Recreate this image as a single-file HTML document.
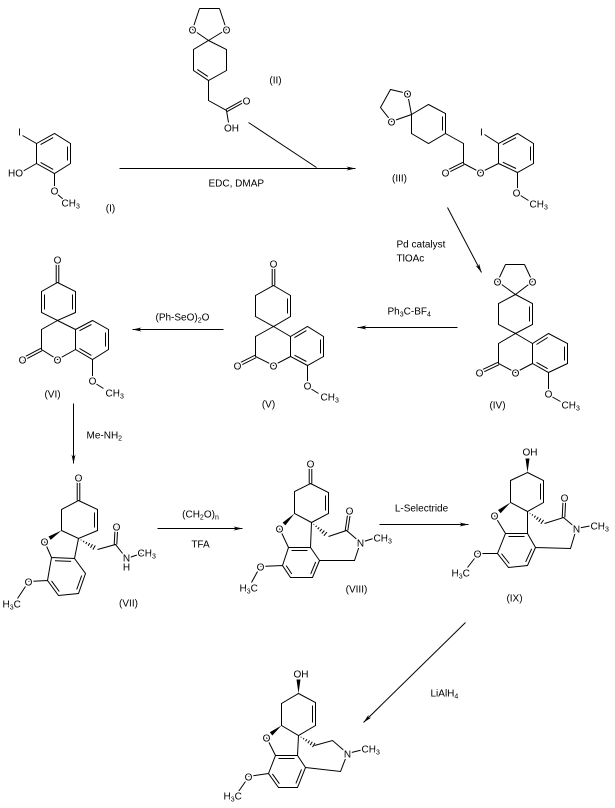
<!DOCTYPE html>
<html><head><meta charset="utf-8"><style>
html,body{margin:0;padding:0;background:#fff;}
svg{display:block;}
.b{stroke:#000;stroke-width:1;fill:none;}
.a{font-family:"Liberation Sans",Arial,sans-serif;font-size:10px;text-anchor:middle;fill:#000;stroke:#fff;stroke-width:3px;paint-order:stroke;stroke-linejoin:round;}
.l{font-family:"Liberation Sans",Arial,sans-serif;font-size:10px;fill:#000;stroke:#fff;stroke-width:3px;paint-order:stroke;stroke-linejoin:round;}
.r{font-family:"Liberation Sans",Arial,sans-serif;font-size:10px;fill:#000;}
.c{text-anchor:middle;}
</style></head><body>
<svg width="615" height="808" viewBox="0 0 615 808" xmlns="http://www.w3.org/2000/svg">
<defs>
<marker id="ah" markerWidth="10" markerHeight="6" refX="9" refY="3" orient="auto" markerUnits="userSpaceOnUse"><path d="M0,1 L9,3 L0,5 L2.5,3 Z" fill="#000"/></marker>
</defs>
<g transform="translate(0.5,0.5)">

<!-- ===== Compound I ===== -->
<path class="b" d="M36,143 L54,133 L70,143 L70,163 L54,173 L36,163 Z M40.1,144.1 L52.7,137.1 M67,146 L67,160 M52.7,168.9 L40.1,161.9 M36,143 L22,135 M36,163 L22,171 M54,173 L54,188 M56,193 L63,199"/>
<text class="a" x="19" y="135">I</text>
<text class="a" x="15" y="176">HO</text>
<text class="a" x="54" y="194">O</text>
<text class="l" x="61" y="206">CH<tspan font-size="7" dy="2">3</tspan></text>
<text class="r c" x="110" y="211">(I)</text>

<!-- ===== Compound II ===== -->
<path class="b" d="M199,8 L219,8 M199,8 L192,29 M219,8 L226,29 M192,29 L208,40 M226,29 L208,40 M208,40 L226,49 L226,70 L208,80 L193,70 L193,49 Z M207.3,75.9 L196.8,68.9 M208,80 L208,100 L226,110 L228,122 M226.6,111.1 L244.6,101.1 M225.4,108.9 L243.4,98.9"/>
<text class="a" x="192" y="33">O</text>
<text class="a" x="226" y="33">O</text>
<text class="a" x="246" y="104">O</text>
<text class="a" x="231" y="131">OH</text>
<text class="r c" x="275" y="83">(II)</text>

<!-- Arrow 1 -->
<path class="b" d="M119,168 L355,168" marker-end="url(#ah)"/>
<path class="b" d="M248,122 L316,167"/>
<text class="r" x="208" y="186">EDC, DMAP</text>

<!-- ===== Compound III ===== -->
<path class="b" d="M380,107 L390,89 L407,93 L411,114 L391,121 Z M411,114 L428,104 L445,113 L445,133 L428,143 L411,133 Z M442,116 L442,130 M445,133 L463,143 L463,163 M463.6,164.2 L445.6,173.2 M462.4,161.8 L444.4,170.8 M463,163 L480,172 L498,163 M498,163 L498,143 L517,133 L533,143 L533,163 L517,172 Z M502.3,144.1 L515.6,137.1 M530,146 L530,160 M515.6,168 L502.3,161.7 M498,143 L484,134 M517,172 L517,188 M520,195 L528,200"/>
<text class="a" x="407" y="97">O</text>
<text class="a" x="391" y="125">O</text>
<text class="a" x="445" y="176">O</text>
<text class="a" x="480" y="176">O</text>
<text class="a" x="481" y="135">I</text>
<text class="a" x="516" y="196">O</text>
<text class="l" x="529" y="207">CH<tspan font-size="7" dy="2">3</tspan></text>
<text class="r c" x="399" y="181">(III)</text>

<!-- Arrow 2 -->
<path class="b" d="M447,207 L481,272" marker-end="url(#ah)"/>
<text class="r" x="396" y="247">Pd catalyst</text>
<text class="r" x="396" y="261">TlOAc</text>

<!-- ===== Compound IV ===== -->
<path class="b" d="M505,264 L524,264 M505,264 L497,281 M524,264 L532,281 M497,281 L515,294 L532,281 M515,294 L532,303 L532,324 L515,333 L498,324 L498,303 Z M529,306 L529,321 M515,333 L498,343 L498,363 L515,372 L532,363 M515,333 L532,343 M532,343 L548,333 L567,343 L567,363 L548,372 L532,363 Z M536,344 L547.2,337 M564,346 L564,360 M547.2,368.2 L536,361.9 M498.6,364.2 L479.6,373.2 M497.4,361.8 L478.4,370.8 M548,372 L548,389 M551,396 L560,401"/>
<text class="a" x="497" y="285">O</text>
<text class="a" x="532" y="285">O</text>
<text class="a" x="479" y="376">O</text>
<text class="a" x="515" y="376">O</text>
<text class="a" x="548" y="397">O</text>
<text class="l" x="561" y="408">CH<tspan font-size="7" dy="2">3</tspan></text>
<text class="r c" x="497" y="408">(IV)</text>

<!-- Arrow 3 -->
<path class="b" d="M457,327 L357,327" marker-end="url(#ah)"/>
<text class="r" x="387" y="314">Ph<tspan font-size="7" dy="2">3</tspan><tspan dy="-2">C-BF</tspan><tspan font-size="7" dy="2">4</tspan></text>

<!-- ===== Compound V ===== -->
<path class="b" d="M273,285 L290,295 L290,316 L273,326 L255,316 L255,295 Z M287,298 L287,313 M271.7,285 L271.7,264 M274.3,285 L274.3,264 M273,326 L255,336 L255,356 L273,365 L290,356 M273,326 L290,336 M290,336 L307,326 L323,336 L323,356 L307,365 L290,356 Z M294,337.1 L305.9,330.1 M320,339 L320,353 M305.9,361 L294,354.7 M255.6,357.2 L237.6,366.2 M254.4,354.8 L236.4,363.8 M307,365 L307,381 M310,388 L318,393"/>
<text class="a" x="273" y="267">O</text>
<text class="a" x="237" y="369">O</text>
<text class="a" x="273" y="369">O</text>
<text class="a" x="307" y="389">O</text>
<text class="l" x="320" y="400">CH<tspan font-size="7" dy="2">3</tspan></text>
<text class="r c" x="268" y="407">(V)</text>

<!-- Arrow 4 -->
<path class="b" d="M223,329 L132,329" marker-end="url(#ah)"/>
<text class="r" x="155" y="320">(Ph-SeO)<tspan font-size="7" dy="2">2</tspan><tspan dy="-2">O</tspan></text>

<!-- ===== Compound VI ===== -->
<path class="b" d="M57,282 L75,291 L75,312 L57,320 L41,312 L41,291 Z M72,294 L72,309 M44,294 L44,309 M55.7,282 L55.7,260 M58.3,282 L58.3,260 M57,320 L41,329 L41,349 L57,359 L75,349 M57,320 L75,329 M75,329 L92,320 L108,329 L108,349 L92,359 L75,349 Z M79,330.2 L90.9,324 M105,332 L105,346 M90.9,354.9 L79,347.9 M41.6,350.2 L22.6,360.2 M40.4,347.8 L21.4,357.8 M92,359 L92,376 M95,383 L103,388"/>
<text class="a" x="57" y="263">O</text>
<text class="a" x="22" y="363">O</text>
<text class="a" x="57" y="363">O</text>
<text class="a" x="92" y="384">O</text>
<text class="l" x="105" y="396">CH<tspan font-size="7" dy="2">3</tspan></text>
<text class="r c" x="52" y="397">(VI)</text>

<!-- Arrow 5 -->
<path class="b" d="M73,403 L73,463" marker-end="url(#ah)"/>
<text class="r" x="86" y="438">Me-NH<tspan font-size="7" dy="2">2</tspan></text>

<!-- ===== Compound VII ===== -->
<path class="b" d="M78,500 L97,509 L97,530 L78,538 L61,530 L61,509 Z M94,512 L94,527 M76.7,500 L76.7,477 M79.3,500 L79.3,477 M44,541 L51,557 M78,538 L74,558 M51,557 L74,558 L85,573 L78,593 L58,595 L47,580 Z M54.5,560.2 L70.6,560.9 M81.2,575 L76.2,589 M58.8,591 L51,580.4 M47,580 L28,581 M25,586 L17,598 M97,549 L115,544 L126,558 M126,558 L141,553 M113.7,544 L114.7,526 M116.3,544 L117.3,526"/>
<polygon points="61,530 48,536 50.2,539.4" fill="#000"/>
<g transform="translate(78,538) rotate(30)" class="b"><path d="M3,-0.4 V0.4 M6,-0.8 V0.8 M9,-1.2 V1.2 M12,-1.6 V1.6 M15,-2 V2 M18,-2.4 V2.4"/></g>
<text class="a" x="78" y="481">O</text>
<text class="a" x="44" y="545">O</text>
<text class="a" x="28" y="585">O</text>
<text class="l" x="2" y="607">H<tspan font-size="7" dy="2">3</tspan><tspan dy="-2">C</tspan></text>
<text class="a" x="116" y="530">O</text>
<text class="a" x="126" y="561">N</text>
<text class="a" x="126" y="570">H</text>
<text class="l" x="137" y="556">CH<tspan font-size="7" dy="2">3</tspan></text>
<text class="r c" x="128" y="606">(VII)</text>

<!-- Arrow 6 -->
<path class="b" d="M157,528 L242,528" marker-end="url(#ah)"/>
<text class="r c" x="200" y="517">(CH<tspan font-size="7" dy="2">2</tspan><tspan dy="-2">O)</tspan><tspan font-size="7" dy="2">n</tspan></text>
<text class="r c" x="200" y="547">TFA</text>

<!-- ===== Compound VIII ===== -->
<path class="b" d="M310,483 L328,492 L328,513 L311,522 L294,513 L294,491 Z M325,495 L325,510 M308.7,483 L308.7,463 M311.3,483 L311.3,463 M279,528 L288,547 M311,522 L310,547 M288,547 L310,547 L319,560 L312,577 L290,577 L282,565 Z M291,550 L307,550 M315.2,561.4 L310.2,573.4 M291.3,573.5 L285.7,565.1 M282,565 L260,566 M257,571 L251,582 M328,536 L346,530 L360,542 M360,542 L354,560 L319,560 M360,542 L376,537 M344.7,530 L347.7,510 M347.3,530 L350.3,510"/>
<polygon points="294,513 282.1,522.1 284.9,524.9" fill="#000"/>
<g transform="translate(311,522) rotate(39.5)" class="b"><path d="M3,-0.4 V0.4 M6,-0.8 V0.8 M9,-1.2 V1.2 M12,-1.6 V1.6 M15,-2 V2 M18,-2.4 V2.4"/></g>
<text class="a" x="310" y="467">O</text>
<text class="a" x="279" y="532">O</text>
<text class="a" x="260" y="570">O</text>
<text class="l" x="239" y="591">H<tspan font-size="7" dy="2">3</tspan><tspan dy="-2">C</tspan></text>
<text class="a" x="349" y="514">O</text>
<text class="a" x="360" y="546">N</text>
<text class="l" x="373" y="541">CH<tspan font-size="7" dy="2">3</tspan></text>
<text class="r c" x="356" y="592">(VIII)</text>

<!-- Arrow 7 -->
<path class="b" d="M379,524 L468,524" marker-end="url(#ah)"/>
<text class="r c" x="421" y="511">L-Selectride</text>

<!-- ===== Compound IX ===== -->
<path class="b" d="M527,472 L543,480 L543,502 L527,511 L510,502 L510,480 Z M540,483 L540,499 M494,515 L505,533 M527,511 L527,533 M505,533 L527,533 L535,547 L527,565 L508,567 L497,553 Z M508,536 L524,536 M531.2,548.3 L525.2,561.3 M508.8,563 L501,553.2 M497,553 L477,553 M474,558 L467,567 M544,523 L563,517 L576,528 M576,528 L570,548 L535,547 M576,528 L592,525 M561.7,517 L562.7,497 M564.3,517 L565.3,497"/>
<polygon points="527,472 525,458 529,458" fill="#000"/>
<polygon points="510,502 497.5,509.5 500.1,512.7" fill="#000"/>
<g transform="translate(527,511) rotate(35)" class="b"><path d="M3,-0.4 V0.4 M6,-0.8 V0.8 M9,-1.2 V1.2 M12,-1.6 V1.6 M15,-2 V2 M18,-2.4 V2.4"/></g>
<text class="l" x="522" y="455">OH</text>
<text class="a" x="494" y="519">O</text>
<text class="a" x="477" y="557">O</text>
<text class="l" x="451" y="576">H<tspan font-size="7" dy="2">3</tspan><tspan dy="-2">C</tspan></text>
<text class="a" x="564" y="501">O</text>
<text class="a" x="576" y="532">N</text>
<text class="l" x="590" y="529">CH<tspan font-size="7" dy="2">3</tspan></text>
<text class="r c" x="514" y="601">(IX)</text>

<!-- Arrow 8 -->
<path class="b" d="M465,622 L363,722" marker-end="url(#ah)"/>
<text class="r" x="430" y="696">LiAlH<tspan font-size="7" dy="2">4</tspan></text>

<!-- ===== Final compound ===== -->
<path class="b" d="M298,693 L315,702 L315,725 L298,735 L281,725 L281,703 Z M312,705 L312,722 M266,737 L275,755 M298,735 L297,755 M275,755 L297,755 L305,767 L297,787 L278,787 L268,773 Z M278,758 L294,758 M301,768.9 L295.4,782.9 M278.9,783.2 L271.9,773.4 M268,773 L248,776 M245,781 L238,791 M314,745 L332,740 L347,753 M347,753 L340,771 L305,767 M347,753 L363,749"/>
<polygon points="298,693 296,679 300,679" fill="#000"/>
<polygon points="281,725 269.3,731.8 271.8,735" fill="#000"/>
<g transform="translate(298,735) rotate(32)" class="b"><path d="M3,-0.4 V0.4 M6,-0.8 V0.8 M9,-1.2 V1.2 M12,-1.6 V1.6 M15,-2 V2 M18,-2.4 V2.4"/></g>
<text class="l" x="293" y="677">OH</text>
<text class="a" x="266" y="741">O</text>
<text class="a" x="248" y="780">O</text>
<text class="l" x="223" y="799">H<tspan font-size="7" dy="2">3</tspan><tspan dy="-2">C</tspan></text>
<text class="a" x="347" y="757">N</text>
<text class="l" x="361" y="752">CH<tspan font-size="7" dy="2">3</tspan></text>
</g>
</svg>
</body></html>
